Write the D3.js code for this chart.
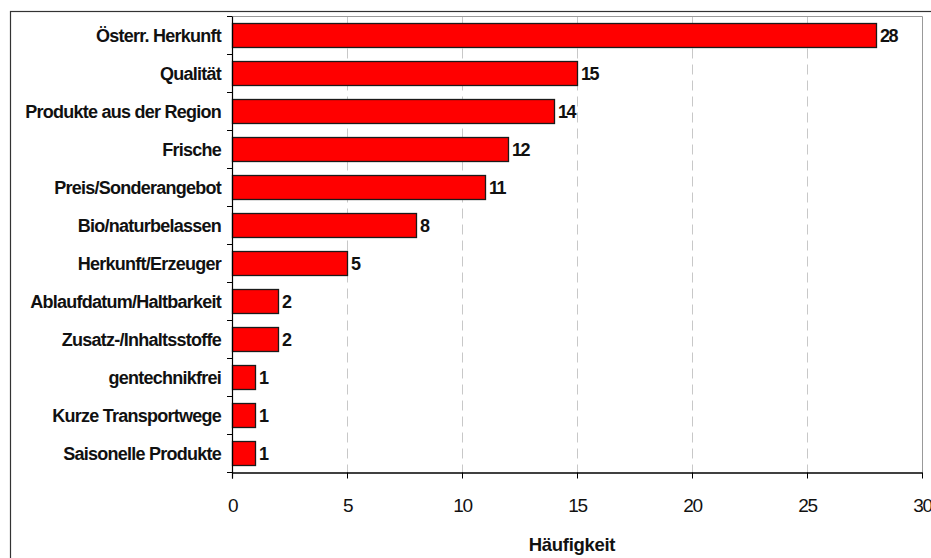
<!DOCTYPE html>
<html>
<head>
<meta charset="utf-8">
<script src="https://cdn.jsdelivr.net/npm/d3@7"></script>
<style>
  html, body { margin: 0; padding: 0; background: #fff; }
  svg { display: block; }
</style>
</head>
<body>
<svg id="chart" width="931" height="558"></svg>
<script>
const categories = [
  "Österr. Herkunft",
  "Qualität",
  "Produkte aus der Region",
  "Frische",
  "Preis/Sonderangebot",
  "Bio/naturbelassen",
  "Herkunft/Erzeuger",
  "Ablaufdatum/Haltbarkeit",
  "Zusatz-/Inhaltsstoffe",
  "gentechnikfrei",
  "Kurze Transportwege",
  "Saisonelle Produkte"
];
const values = [28, 15, 14, 12, 11, 8, 5, 2, 2, 1, 1, 1];
const xTicks = [0, 5, 10, 15, 20, 25, 30];
const xTitle = "Häufigkeit";

const svg = d3.select("#chart");
const plot = { left: 232, right: 922, top: 16.5, bottom: 472.5 };
const font = "'Liberation Sans', Arial, sans-serif";

// outer frame
svg.append("rect")
  .attr("x", 10.5).attr("y", 11.5)
  .attr("width", 940).attr("height", 560)
  .attr("fill", "none").attr("stroke", "#333").attr("stroke-width", 1.2);

const x = d3.scaleLinear().domain([0, 30]).range([plot.left, plot.right]);
const y = d3.scaleBand().domain(categories).range([plot.top, plot.bottom])
  .paddingInner(0.36).paddingOuter(0.18);

// gridlines
svg.append("g").selectAll("line")
  .data(xTicks.filter(t => t > 0 && t < 30))
  .join("line")
  .attr("x1", d => Math.round(x(d)) + 0.5).attr("x2", d => Math.round(x(d)) + 0.5)
  .attr("y1", plot.top).attr("y2", plot.bottom)
  .attr("stroke", "#c8c8c8").attr("stroke-width", 1)
  .attr("stroke-dasharray", "10,6");

// plot border top & right (gray)
svg.append("path")
  .attr("d", `M${plot.left},${plot.top}H${plot.right + 0.5}V${plot.bottom}`)
  .attr("fill", "none").attr("stroke", "#999").attr("stroke-width", 1);

// bars
svg.append("g").selectAll("rect")
  .data(values)
  .join("rect")
  .attr("x", x(0) + 0.5)
  .attr("y", (d, i) => Math.round(y(categories[i])) + 0.5)
  .attr("width", d => x(d) - x(0))
  .attr("height", Math.round(y.bandwidth()))
  .attr("fill", "#ff0000")
  .attr("stroke", "#1a1a1a").attr("stroke-width", 1.3);

// value labels
svg.append("g").selectAll("text")
  .data(values)
  .join("text")
  .attr("x", d => x(d) + 4)
  .attr("y", (d, i) => y(categories[i]) + y.bandwidth() / 2)
  .attr("dy", "0.36em")
  .attr("font-family", font).attr("font-weight", "bold")
  .attr("font-size", 18).attr("letter-spacing", -1.4)
  .attr("fill", "#111")
  .text(d => d);

// y axis (band boundary ticks)
const yAxisG = svg.append("g");
const boundaries = d3.range(categories.length + 1).map(i => plot.top + i * (plot.bottom - plot.top) / categories.length);
yAxisG.selectAll("line.tick")
  .data(boundaries)
  .join("line")
  .attr("x1", plot.left - 5).attr("x2", plot.left)
  .attr("y1", d => d).attr("y2", d => d)
  .attr("stroke", "#000").attr("stroke-width", 1);
yAxisG.append("line")
  .attr("x1", plot.left + 0.5).attr("x2", plot.left + 0.5)
  .attr("y1", plot.top).attr("y2", plot.bottom + 6)
  .attr("stroke", "#000").attr("stroke-width", 1.2);
yAxisG.selectAll("text")
  .data(categories)
  .join("text")
  .attr("x", plot.left - 11)
  .attr("y", d => y(d) + y.bandwidth() / 2)
  .attr("dy", "0.36em")
  .attr("text-anchor", "end")
  .attr("font-family", font).attr("font-weight", "bold")
  .attr("font-size", 18).attr("letter-spacing", -0.75)
  .attr("fill", "#111")
  .text(d => d);

// x axis
const xAxis = d3.axisBottom(x).tickValues(xTicks).tickSize(6).tickPadding(20).tickFormat(d3.format("d"));
const xg = svg.append("g")
  .attr("transform", `translate(0,${plot.bottom})`)
  .call(xAxis);
xg.select(".domain").attr("stroke", "#000").attr("stroke-width", 1.3)
  .attr("d", `M${plot.left},0.5H${plot.right + 0.5}`);
xg.selectAll(".tick line").attr("stroke", "#000");
xg.selectAll(".tick text")
  .attr("font-family", font).attr("font-size", 19).attr("letter-spacing", -1.4)
  .attr("fill", "#111");

// x title
svg.append("text")
  .attr("x", (plot.left + plot.right) / 2 - 5)
  .attr("y", 551)
  .attr("text-anchor", "middle")
  .attr("font-family", font).attr("font-weight", "bold")
  .attr("font-size", 18.5).attr("letter-spacing", -0.3)
  .attr("fill", "#111")
  .text(xTitle);
</script>
</body>
</html>
